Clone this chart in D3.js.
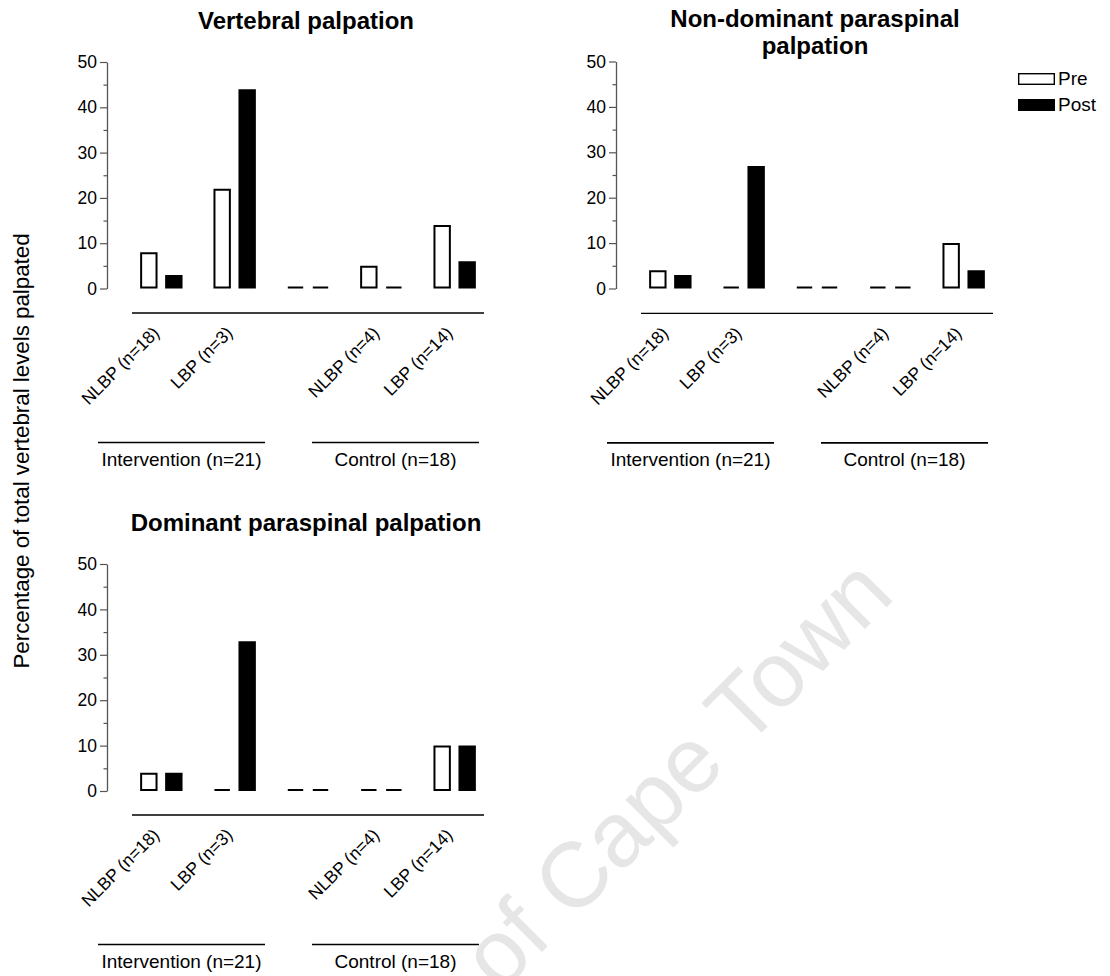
<!DOCTYPE html>
<html>
<head>
<meta charset="utf-8">
<script src="https://cdn.jsdelivr.net/npm/d3@7"></script>
<style>
  html, body { margin: 0; padding: 0; background: #fff; }
  svg { display: block; }
  text { font-family: "Liberation Sans", Arial, sans-serif; fill: #000; }
</style>
</head>
<body>
<svg id="chart" width="1110" height="976"></svg>
<script>
// ---------------- DATA ----------------
const categories = ["NLBP (n=18)", "LBP (n=3)", "", "NLBP (n=4)", "LBP (n=14)"];
const seriesNames = ["Pre", "Post"];
const groupNames = ["Intervention (n=21)", "Control (n=18)"];
const yTicks = [0, 10, 20, 30, 40, 50];
const yMinorTicks = [5, 15, 25, 35, 45];

const vertebralPre = [8, 22, 0, 5, 14];
const vertebralPost = [3, 44, 0, 0, 6];
const nonDominantPre = [4, 0, 0, 0, 10];
const nonDominantPost = [3, 27, 0, 0, 4];
const dominantPre = [4, 0, 0, 0, 10];
const dominantPost = [4, 33, 0, 0, 10];

const titles = [["Vertebral palpation"], ["Non-dominant paraspinal", "palpation"], ["Dominant paraspinal palpation"]];
const yAxisTitle = "Percentage of total vertebral levels palpated";
const watermark = "of Cape Town";

// ---------------- LAYOUT ----------------
const panels = [
  { title: titles[0], pre: vertebralPre, post: vertebralPost, axisX: 107, top: 62, bottom: 288.5, lineY: 313 },
  { title: titles[1], pre: nonDominantPre, post: nonDominantPost, axisX: 616, top: 61.5, bottom: 288.5, lineY: 313.3 },
  { title: titles[2], pre: dominantPre, post: dominantPost, axisX: 107, top: 564, bottom: 791, lineY: 815 }
];
const groupLayout = [{ x0: -9, x1: 158 }, { x0: 205, x1: 372 }];

const svg = d3.select("#chart");
const FONT = 17.5;

// watermark (behind everything)
svg.append("text")
  .attr("transform", "translate(500,994) rotate(-45)")
  .attr("font-size", 92)
  .style("fill", "#e6e6e6")
  .text(watermark);

// y-axis title
svg.append("text")
  .attr("transform", "translate(29,451) rotate(-90)")
  .attr("text-anchor", "middle")
  .attr("font-size", 22.3)
  .text(yAxisTitle);

const inner = d3.scaleBand().domain(seriesNames).range([-21.2, 21.2]).paddingInner(0.304).paddingOuter(0);

panels.forEach(p => {
  const g = svg.append("g");
  const y = d3.scaleLinear().domain([0, 50]).range([p.bottom, p.top]);
  const x = d3.scalePoint().domain(categories).range([p.axisX + 25, p.axisX + 377]).padding(0.4);

  // title
  const cx = p.axisX + 199;
  const multi = p.title.length > 1;
  p.title.forEach((line, i) => {
    g.append("text")
      .attr("x", cx)
      .attr("y", p.top - (multi ? 34.5 : 33) + i * 27)
      .attr("text-anchor", "middle")
      .attr("font-size", 24)
      .attr("font-weight", "bold")
      .text(line);
  });

  // y axis major
  const ax = g.append("g")
    .attr("transform", `translate(${p.axisX},0)`)
    .call(d3.axisLeft(y).tickValues(yTicks).tickSize(7).tickSizeOuter(0).tickPadding(3));
  ax.select(".domain").attr("stroke", "#555").attr("stroke-width", 1.3);
  ax.selectAll(".tick line").attr("stroke", "#555").attr("stroke-width", 1.2);
  ax.selectAll(".tick text").attr("font-size", FONT).style("font-family", '"Liberation Sans", Arial, sans-serif').attr("fill", "#000");
  // minor
  const mx = g.append("g")
    .attr("transform", `translate(${p.axisX},0)`)
    .call(d3.axisLeft(y).tickValues(yMinorTicks).tickSize(3.5).tickSizeOuter(0).tickFormat(""));
  mx.select(".domain").remove();
  mx.selectAll(".tick line").attr("stroke", "#555").attr("stroke-width", 1.2);

  // x axis line (offset)
  const xr = x.range();
  g.append("line")
    .attr("x1", xr[0]).attr("x2", xr[1])
    .attr("y1", p.lineY).attr("y2", p.lineY)
    .attr("stroke", "#000").attr("stroke-width", 1.3);

  // bars
  const sw = 2;
  const rows = [];
  categories.forEach((c, i) => {
    rows.push({ c, s: "Pre", v: p.pre[i] });
    rows.push({ c, s: "Post", v: p.post[i] });
  });
  g.selectAll("path.bar").data(rows).join("path")
    .attr("class", "bar")
    .attr("d", d => {
      const x0 = x(d.c) + inner(d.s) + sw / 2;
      const x1 = x(d.c) + inner(d.s) + inner.bandwidth() - sw / 2;
      const yb = y(0) - sw / 2;
      const yt = Math.min(y(d.v) + sw / 2, yb);
      return `M${x0},${yb}V${yt}H${x1}V${yb}Z`;
    })
    .attr("fill", d => d.s === "Pre" ? "#fff" : "#000")
    .attr("stroke", "#000")
    .attr("stroke-width", sw);

  // rotated category labels
  g.selectAll("text.cat").data(categories.filter(c => c !== "")).join("text")
    .attr("class", "cat")
    .attr("transform", d => `translate(${x(d) - 1},${p.lineY + 21}) rotate(-45)`)
    .attr("text-anchor", "end")
    .attr("font-size", 17.5)
    .text(d => d);

  // group brackets
  groupNames.forEach((gn, i) => {
    const L = groupLayout[i];
    g.append("line")
      .attr("x1", p.axisX + L.x0).attr("x2", p.axisX + L.x1)
      .attr("y1", p.lineY + 129.5).attr("y2", p.lineY + 129.5)
      .attr("stroke", "#000").attr("stroke-width", 1.7);
    g.append("text")
      .attr("x", p.axisX + (L.x0 + L.x1) / 2)
      .attr("y", p.lineY + 153)
      .attr("text-anchor", "middle")
      .attr("font-size", 19)
      .text(gn);
  });
});

// legend
const legend = svg.append("g").attr("transform", "translate(1018,73)");
seriesNames.forEach((s, i) => {
  const ly = i * 26;
  legend.append("rect")
    .attr("x", 0.7).attr("y", ly + 0.7)
    .attr("width", 35.6).attr("height", 10.6)
    .attr("fill", s === "Pre" ? "#fff" : "#000")
    .attr("stroke", "#000").attr("stroke-width", 1.4);
  legend.append("text")
    .attr("x", 40).attr("y", ly + 12)
    .attr("font-size", 19)
    .text(s);
});
</script>
</body>
</html>
